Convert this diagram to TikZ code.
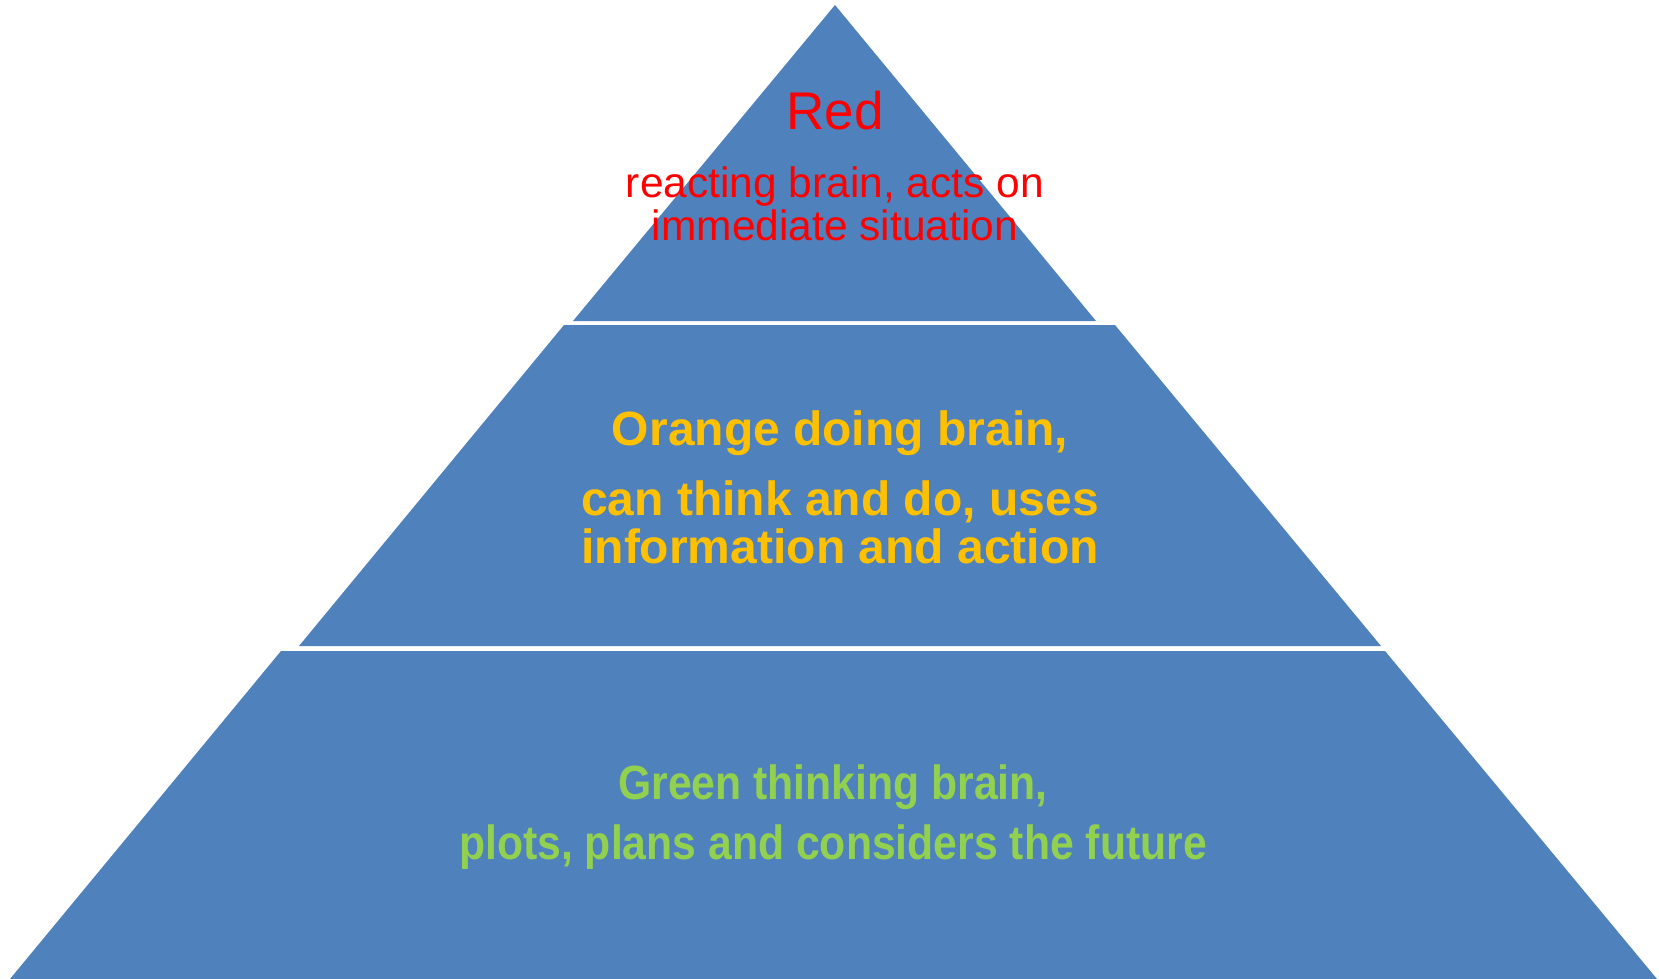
\documentclass[tikz,border=0pt]{standalone}
\usepackage{fontspec}
\usepackage{xcolor}
\setmainfont{Liberation Sans}
\newfontfamily\narrowsans[FakeStretch=0.89]{Liberation Sans}
\usepackage{tikz}

\definecolor{tierblue}{HTML}{4F81BD}
\definecolor{redtext}{HTML}{FF0000}
\definecolor{orangetext}{HTML}{FFC000}
\definecolor{greentext}{HTML}{92D050}

\begin{document}
\begin{tikzpicture}[x=1pt,y=-1pt,
  tier/.style={fill=tierblue},
  line/.style={anchor=base,inner sep=0pt}]
\useasboundingbox (0,0) rectangle (1659,979);
% the three tiers of the pyramid
\fill[tier] (835,5) -- (1096,321) -- (573,321) -- cycle;
\fill[tier] (564,325) -- (1115,325) -- (1381,646) -- (299,646) -- cycle;
\fill[tier] (281,651) -- (1385,651) -- (1657,979) -- (10,979) -- cycle;
% top tier
\node[line,text=redtext,font=\fontsize{53}{53}\selectfont] (red) at (835,129) {Red};
\foreach \txt/\yb [count=\i] in {{reacting brain, acts on}/197,{immediate situation}/240}
  \node[line,text=redtext,font=\fontsize{42.5}{44}\selectfont] (red\i) at (835,\yb) {\txt};
% middle tier
\foreach \txt/\yb [count=\i] in {{Orange doing brain,}/445,{can think and do, uses}/515,{information and action}/563}
  \node[line,text=orangetext,font=\fontsize{48}{53}\selectfont\bfseries] (orange\i) at (840,\yb) {\txt};
% bottom tier
\foreach \txt/\yb [count=\i] in {{Green thinking brain,}/799,{plots, plans and considers the future}/859}
  \node[line,text=greentext,font=\fontsize{48}{53}\narrowsans\bfseries] (green\i) at (833,\yb) {\txt};
\end{tikzpicture}
\end{document}
